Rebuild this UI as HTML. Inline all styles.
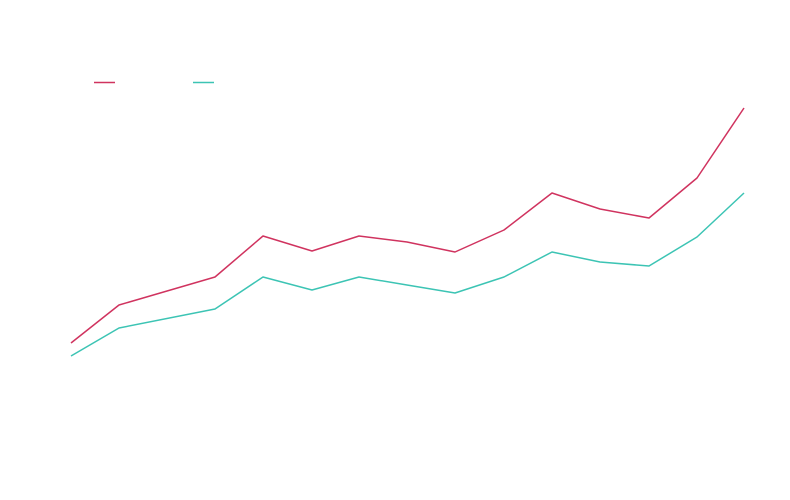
<!DOCTYPE html>
<html><head><meta charset="utf-8"><style>
html,body{margin:0;padding:0;background:#fff;}
svg{display:block;font-family:"Liberation Sans",sans-serif;}
</style></head><body>
<svg width="790" height="500" viewBox="0 0 790 500" xmlns="http://www.w3.org/2000/svg">
<rect width="790" height="500" fill="#fff"/>
<line x1="94" y1="82.5" x2="115" y2="82.5" stroke="#d0335f" stroke-width="1.5"/>
<text x="121" y="86" font-size="12" fill="#fff">Series A</text>
<line x1="193" y1="82.5" x2="214" y2="82.5" stroke="#3cc4b4" stroke-width="1.5"/>
<text x="220" y="86" font-size="12" fill="#fff">Series B</text>
<polyline fill="none" stroke="#d0335f" stroke-width="1.5" stroke-linejoin="round"
points="71,343 119,305 215,277 263,236 312,251 359,236 407,242 455,252 504,230 552,193 600,209 649,218 697,178 744,108"/>
<polyline fill="none" stroke="#3cc4b4" stroke-width="1.5" stroke-linejoin="round"
points="71,356 119,328 215,309 263,277 312,290 359,277 407,285 455,293 504,277 552,252 600,262 649,266 697,237 744,193"/>
</svg>
</body></html>
